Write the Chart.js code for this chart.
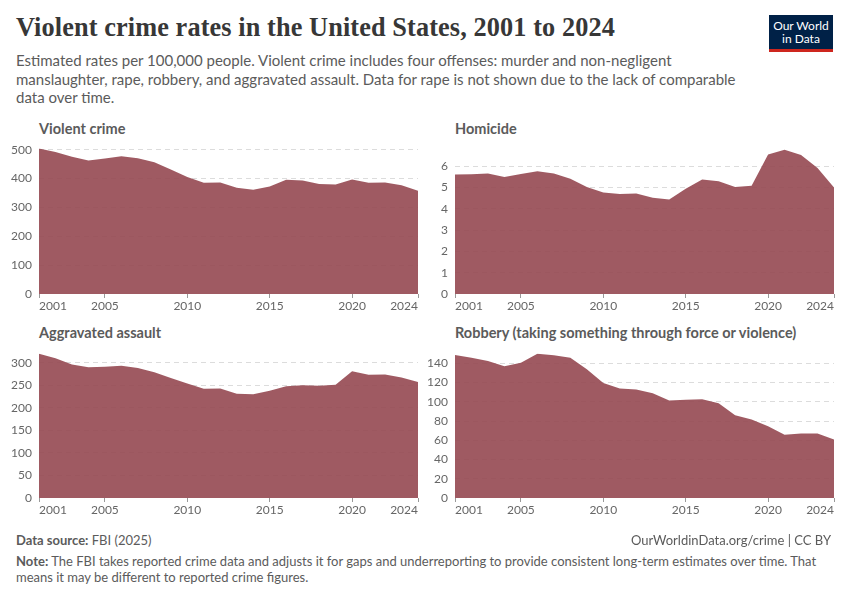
<!DOCTYPE html>
<html>
<head>
<meta charset="utf-8">
<script src="https://cdn.jsdelivr.net/npm/chart.js@4"></script>
<style>
  body { margin: 0; background: #fff; font-family: Lato, sans-serif; }
  #page { position: relative; width: 850px; height: 600px; overflow: hidden; }
  .abs { position: absolute; }
  h1 { position: absolute; left: 16px; top: 13px; margin: 0; font-family: "Liberation Serif", serif; font-weight: bold; font-size: 26.3px; color: #373737; letter-spacing: 0.1px; }
  #subtitle { left: 16px; top: 51px; width: 730px; font-size: 15px; line-height: 18.5px; color: #5b5b5b; }
  .ptitle { font-size: 14.5px; font-weight: bold; color: #5b5b5b; }
  .foot { font-size: 13px; color: #5b5b5b; }
  #logo { left: 769px; top: 15px; width: 64px; height: 37px; background: #002147; border-bottom: 3px solid #ce261e; box-sizing: border-box; color: #fff; font-size: 12px; line-height: 13px; text-align: center; padding-top: 4px; }
</style>
</head>
<body>
<div id="page">
  <h1>Violent crime rates in the United States, 2001 to 2024</h1>
  <div id="subtitle" class="abs">Estimated rates per 100,000 people. Violent crime includes four offenses: murder and non-negligent manslaughter, rape, robbery, and aggravated assault. Data for rape is not shown due to the lack of comparable data over time.</div>
  <div id="logo" class="abs">Our World<br>in Data</div>

  <div class="abs ptitle" style="left:39px; top:120px;">Violent crime</div>
  <div class="abs ptitle" style="left:455px; top:120px;">Homicide</div>
  <div class="abs ptitle" style="left:39px; top:324px;">Aggravated assault</div>
  <div class="abs ptitle" style="left:455px; top:324px;">Robbery (taking something through force or violence)</div>

  <div class="abs" style="left:0; top:134px; width:450px; height:186px;"><canvas id="c1"></canvas></div>
  <div class="abs" style="left:425px; top:134px; width:425px; height:186px;"><canvas id="c2"></canvas></div>
  <div class="abs" style="left:0; top:339px; width:450px; height:185px;"><canvas id="c3"></canvas></div>
  <div class="abs" style="left:425px; top:339px; width:425px; height:185px;"><canvas id="c4"></canvas></div>

  <div class="abs foot" style="left:16px; top:532px;"><b>Data source:</b> FBI (2025)</div>
  <div class="abs foot" style="right:19px; top:532px;">OurWorldinData.org/crime | CC BY</div>
  <div class="abs foot" style="left:16px; top:553px; width:820px; line-height:16px;"><b>Note:</b> The FBI takes reported crime data and adjusts it for gaps and underreporting to provide consistent long-term estimates over time. That means it may be different to reported crime figures.</div>
</div>

<script>
// Data
const years = [2001, 2002, 2003, 2004, 2005, 2006, 2007, 2008, 2009, 2010, 2011, 2012,
  2013, 2014, 2015, 2016, 2017, 2018, 2019, 2020, 2021, 2022, 2023, 2024];
const xTickYears = [2001, 2005, 2010, 2015, 2020, 2024];

const violentCrime = [504, 492, 475, 462, 469, 477, 470, 456, 431, 405, 385, 386,
  368, 361, 372, 396, 393, 381, 379, 397, 385, 386, 377, 358];
const homicide = [5.61, 5.63, 5.66, 5.5, 5.64, 5.77, 5.66, 5.42, 5.03, 4.77, 4.7, 4.72,
  4.52, 4.44, 4.95, 5.38, 5.3, 5.03, 5.08, 6.55, 6.78, 6.53, 5.92, 5.0];
const assault = [320, 310, 296, 290, 291, 293, 288, 279, 266, 254, 242, 243,
  231, 230, 238, 248, 250, 249, 251, 281, 273, 274, 267, 257];
const robbery = [148.6, 145.9, 142.4, 136.9, 140.7, 150, 148.3, 145.9, 133.8, 119.6, 113.7, 112.7,
  108.9, 101.3, 102, 102.7, 98.5, 86.1, 81.6, 74.7, 65.7, 67.1, 67.1, 60.8];

const violentTicks = [0, 100, 200, 300, 400, 500];
const homicideTicks = [0, 1, 2, 3, 4, 5, 6];
const assaultTicks = [0, 50, 100, 150, 200, 250, 300];
const robberyTicks = [0, 20, 40, 60, 80, 100, 120, 140];

const fillColor = "rgba(149, 72, 81, 0.9)";

// draws x labels: first left-aligned, last right-aligned, others centred
const edgeLabels = {
  id: "edgeLabels",
  afterDraw(chart) {
    const { ctx, scales } = chart;
    const x = scales.x;
    ctx.save();
    ctx.font = "12px Lato";
    ctx.fillStyle = "#666";
    ctx.textBaseline = "top";
    xTickYears.forEach((yr, i) => {
      const px = x.getPixelForValue(years.indexOf(yr));
      ctx.textAlign = i === 0 ? "left" : i === xTickYears.length - 1 ? "right" : "center";
      ctx.fillText(String(yr), px, chart.chartArea.bottom + 6);
    });
    ctx.restore();
  },
};

function makeChart(id, values, ticks, yMax, yWidth, padRight) {
  new Chart(document.getElementById(id), {
    type: "line",
    data: {
      labels: years,
      datasets: [{
        data: values,
        fill: "origin",
        backgroundColor: fillColor,
        borderColor: fillColor,
        borderWidth: 0,
        pointRadius: 0,
        tension: 0,
      }],
    },
    options: {
      responsive: true,
      maintainAspectRatio: false,
      animation: false,
      layout: { padding: { top: 0, right: padRight, left: 0, bottom: 0 } },
      plugins: { legend: { display: false }, tooltip: { enabled: false } },
      scales: {
        x: {
          offset: false,
          grid: {
            drawOnChartArea: false,
            tickLength: 4,
            color: (c) => (c.tick && xTickYears.includes(years[c.tick.value]) ? "#999" : "transparent"),
          },
          border: { display: false },
          ticks: { display: false, autoSkip: false },
          afterFit: (s) => { s.height = 26; },
        },
        y: {
          min: 0,
          max: yMax,
          afterBuildTicks: (s) => { s.ticks = ticks.map((v) => ({ value: v })); },
          grid: { color: (c) => (c.tick && c.tick.value === 0 ? "transparent" : "#dcdcdc"), drawTicks: false },
          border: { display: false, dash: [5, 4] },
          ticks: { color: "#666", font: { family: "Lato", size: 12 }, padding: 7 },
          afterFit: (s) => { s.width = yWidth; },
        },
      },
    },
    plugins: [edgeLabels],
  });
}

makeChart("c1", violentCrime, violentTicks, 505, 39, 32);
makeChart("c2", homicide, homicideTicks, 6.85, 30, 16);
makeChart("c3", assault, assaultTicks, 321, 39, 32);
makeChart("c4", robbery, robberyTicks, 150.5, 30, 16);
</script>
</body>
</html>
